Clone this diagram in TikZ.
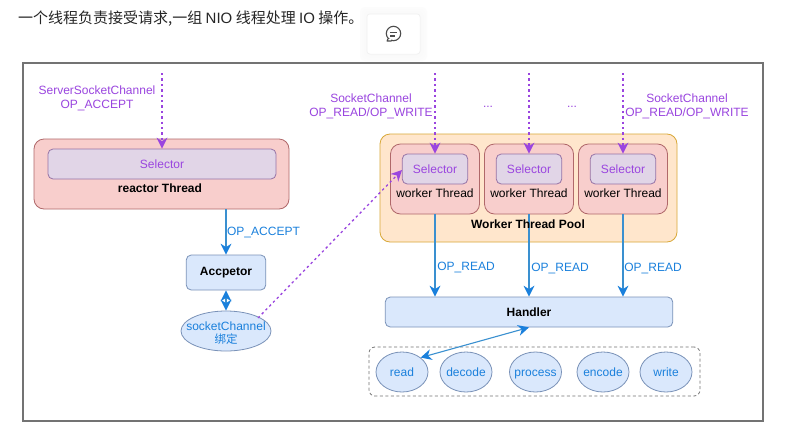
\documentclass[tikz,border=0pt]{standalone}
\usepackage{fontspec}
\setmainfont{Liberation Sans}
\newfontfamily\cjk{Noto Sans CJK SC}
\usetikzlibrary{arrows.meta,shapes.geometric}
\definecolor{purp}{HTML}{9A45DF}
\definecolor{blu}{HTML}{1A80DC}
\definecolor{lnblu}{HTML}{3A90D0}
\definecolor{RedF}{HTML}{F8CECC}\definecolor{RedB}{HTML}{B0686A}
\definecolor{PurF}{HTML}{E1D5E7}\definecolor{PurB}{HTML}{9673A6}
\definecolor{OrF}{HTML}{FFE6CC}\definecolor{OrB}{HTML}{D8A838}
\definecolor{BlF}{HTML}{DAE8FC}\definecolor{BlB}{HTML}{7A92B8}
\tikzset{
  x=1pt,y=-1pt,
  txt/.style={inner sep=0pt,font=\fontsize{12}{14}\selectfont,align=center},
  ptxt/.style={txt,text=purp},
  btxt/.style={txt,text=blu},
  boldtxt/.style={txt,font=\fontsize{12}{14}\selectfont\bfseries,text=black},
  box/.style={draw,rounded corners=#1,inner sep=0pt,line width=0.8pt},
  reactorbox/.style={box=10pt,draw=RedB,fill=RedF},
  selbox/.style={box=5pt,draw=PurB,fill=PurF,text=purp,font=\fontsize{12}{14}\selectfont},
  poolbox/.style={box=10pt,draw=OrB,fill=OrF},
  bluebox/.style={box=5pt,draw=BlB,fill=BlF},
  ovalshape/.style={ellipse,draw=BlB,fill=BlF,inner sep=0pt,line width=0.8pt,minimum width=52pt,minimum height=40pt},
  oval/.style={ovalshape,label={[btxt,yshift=-1pt]center:\vphantom{dp}#1}},
  ptip/.tip={Stealth[length=11pt,width=11pt,inset=3.5pt,color=purp,fill=purp,line width=0pt]},
  btip/.tip={Stealth[length=11pt,width=11pt,inset=3.5pt,color=blu,fill=blu,line width=0pt]},
  dotarrow/.style={purp,line width=1.3pt,dash pattern=on 2.4pt off 3pt,-ptip},
  bluearrow/.style={lnblu,line width=1.1pt,-btip},
  bothblue/.style={lnblu,line width=1.1pt,btip-btip},
}
\begin{document}
\begin{tikzpicture}
\useasboundingbox (0,0) rectangle (803,434);
\fill[white] (0,0) rectangle (803,434);
% heading
\node[anchor=west,inner sep=0pt,font=\cjk\fontsize{15}{18}\selectfont,text=black!85] (head) at (18,19) {一个线程负责接受请求,一组 {\fontspec{Liberation Sans}NIO} 线程处理 {\fontspec{Liberation Sans}IO} 操作。};
% comment button
\foreach \g/\c in {7/1,5/1.5,3/2,1/3}{\fill[black!\c,rounded corners=5pt] (367-\g,14-\g) rectangle (420+\g,54+\g);}
\draw[black!6,fill=white,rounded corners=3pt,line width=.5pt] (367,14) rectangle (420,54);
\draw[black!70,line width=1.1pt] (393.5,33.5) circle[radius=7.2];
\fill[white] (386,39) rectangle (391,42.5);
\draw[black!70,line width=1.1pt,line join=round] (388.2,38.5) -- (387,41) -- (391.5,41);
\draw[black!70,line width=1.1pt] (390,32.5) -- (397,32.5) (390,36) -- (395,36);
% frame
\draw[draw=black!55,fill=white,line width=2pt] (23,63) rectangle (763,421);
% reactor
\node[reactorbox,minimum width=255pt,minimum height=70pt] (reactor) at (161.5,174) {};
\node[selbox,minimum width=228pt,minimum height=30pt] (rsel) at (162,164) {Selector};
\node[boldtxt] (rlabel) at (160,188) {reactor Thread};
% pool
\node[poolbox,minimum width=297pt,minimum height=108pt] (pool) at (528.5,188) {};
\foreach \n/\x in {a/435,b/529,c/623}{
  \node[reactorbox,minimum width=89pt,minimum height=70pt] (w\n) at (\x,179) {};
  \node[selbox,minimum width=65.5pt,minimum height=30pt] (s\n) at (\x,169) {Selector};
  \node[txt] (l\n) at (\x,193.5) {worker Thread};
}
% accepter
\node[bluebox,minimum width=79.5pt,minimum height=35pt,font=\fontsize{12}{14}\selectfont\bfseries] (acc) at (226,272.5) {Accpetor};
\node[ovalshape,minimum width=90pt,minimum height=40pt,label={[btxt,yshift=-2pt]center:socketChannel\\[-1pt]{\cjk\fontsize{11.5}{14}\selectfont 绑定}}] (chan) at (226,331) {};
% handler
\node[bluebox,minimum width=287.5pt,minimum height=30pt,font=\fontsize{12}{14}\selectfont\bfseries] (handler) at (529,312) {Handler};
% dashed group
\node[draw=black!55,rounded corners=6pt,line width=.8pt,dash pattern=on 3pt off 2.5pt,minimum width=331pt,minimum height=49pt,inner sep=0pt] (group) at (534.5,371.5) {};
\node[oval=read] (read) at (402,372) {};
\node[oval=decode] (decode) at (466,372) {};
\node[oval=process] (process) at (535.5,372) {};
\node[oval=encode] (encode) at (603,372) {};
\node[oval=write] (write) at (666,372) {};
% free ends
\coordinate (c0) at (162,73);
\coordinate (ca) at (435,73);
\coordinate (cb) at (529,73);
\coordinate (cc) at (623,73);
\coordinate (sct) at (258,318);
\coordinate (sin) at (402,170);
% purple connectors
\draw[dotarrow] (c0) -- (rsel.north -| c0);
\draw[dotarrow] (ca) -- (sa.north);
\draw[dotarrow] (cb) -- (sb.north);
\draw[dotarrow] (cc) -- (sc.north);
\draw[dotarrow] (sct) -- (sin);
% blue connectors
\draw[bluearrow] (acc.north |- reactor.south) -- (acc.north);
\draw[bothblue] (acc.south) -- (chan.north);
\draw[bluearrow] (wa.south) -- (handler.north -| wa);
\draw[bluearrow] (wb.south) -- (handler.north -| wb);
\draw[bluearrow] (wc.south) -- (handler.north -| wc);
\draw[bothblue] (handler.south) -- (read.north east);
% pool label above connector
\node[boldtxt] (plabel) at (528,224) {Worker Thread Pool};
% labels
\node[ptxt] (t1) at (97,98) {ServerSocketChannel\\OP\_ACCEPT};
\node[ptxt] (t2) at (371,106) {SocketChannel\\OP\_READ/OP\_WRITE};
\node[ptxt] (t3) at (687,106) {SocketChannel\\OP\_READ/OP\_WRITE};
\node[ptxt] (d1) at (488,107) {...};
\node[ptxt] (d2) at (572,107) {...};
\node[btxt] (o1) at (263.5,232.5) {OP\_ACCEPT};
\node[btxt] (o2) at (466,267.5) {OP\_READ};
\node[btxt] (o3) at (560,268.5) {OP\_READ};
\node[btxt] (o4) at (653,268.5) {OP\_READ};
\end{tikzpicture}
\end{document}
